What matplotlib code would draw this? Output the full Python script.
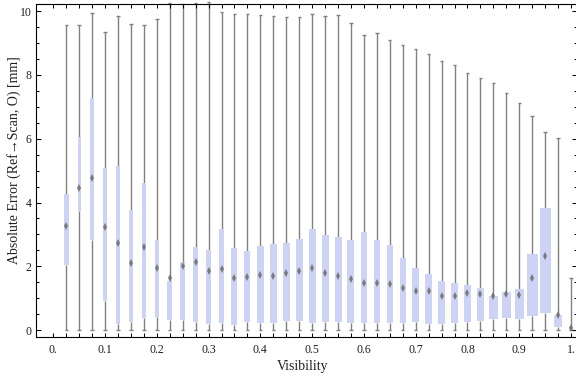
import numpy as np
import matplotlib
matplotlib.use("Agg")
import matplotlib.pyplot as plt
from matplotlib.ticker import FixedLocator, MultipleLocator

plt.rcParams['font.family'] = ['Liberation Serif', 'DejaVu Serif']

# box-whisker summary per visibility bin
visibility = [0.025, 0.05, 0.075, 0.1, 0.125, 0.15, 0.175, 0.2, 0.225, 0.25,
              0.275, 0.3, 0.325, 0.35, 0.375, 0.4, 0.425, 0.45, 0.475, 0.5,
              0.525, 0.55, 0.575, 0.6, 0.625, 0.65, 0.675, 0.7, 0.725, 0.75,
              0.775, 0.8, 0.825, 0.85, 0.875, 0.9, 0.925, 0.95, 0.975, 1.0]
err_max = [9.56, 9.56, 9.93, 9.33, 9.84, 9.58, 9.56, 9.74, 10.24, 10.22,
           10.24, 10.27, 9.96, 9.90, 9.90, 9.86, 9.83, 9.80, 9.80, 9.90,
           9.83, 9.86, 9.61, 9.24, 9.30, 9.08, 8.92, 8.80, 8.64, 8.42,
           8.30, 8.05, 7.89, 7.73, 7.42, 7.11, 6.70, 6.20, 6.01, 1.64]
err_q3 = [4.26, 6.04, 7.29, 5.07, 5.14, 3.78, 4.62, 2.84, 1.54, 2.14,
          2.61, 2.51, 3.17, 2.57, 2.48, 2.63, 2.70, 2.74, 2.85, 3.16,
          2.98, 2.92, 2.84, 3.07, 2.82, 2.66, 2.26, 1.94, 1.76, 1.54,
          1.47, 1.41, 1.32, 1.07, 1.19, 1.29, 2.38, 3.82, 0.47, 0.10]
err_med = [3.27, 4.45, 4.78, 3.24, 2.72, 2.09, 2.61, 1.95, 1.63, 2.01,
           2.13, 1.86, 1.93, 1.64, 1.67, 1.72, 1.70, 1.79, 1.86, 1.95,
           1.78, 1.69, 1.59, 1.48, 1.48, 1.45, 1.33, 1.24, 1.22, 1.06,
           1.08, 1.18, 1.13, 1.07, 1.12, 1.10, 1.64, 2.33, 0.47, 0.07]
err_q1 = [2.04, 3.73, 2.84, 0.91, 0.19, 0.26, 0.37, 0.40, 0.33, 0.33,
          0.26, 0.19, 0.23, 0.16, 0.26, 0.23, 0.23, 0.29, 0.29, 0.23,
          0.26, 0.26, 0.23, 0.21, 0.21, 0.23, 0.23, 0.26, 0.20, 0.20,
          0.23, 0.26, 0.29, 0.36, 0.39, 0.36, 0.45, 0.54, 0.11, 0.03]
err_min = [0.0, 0.02, 0.0, 0.0, 0.0, 0.0, 0.0, 0.0, 0.0, 0.0,
           0.0, 0.0, 0.0, 0.0, 0.0, 0.0, 0.0, 0.0, 0.0, 0.0,
           0.0, 0.0, 0.0, 0.0, 0.0, 0.0, 0.0, 0.0, 0.0, 0.0,
           0.0, 0.0, 0.0, 0.0, 0.0, 0.0, 0.0, 0.0, 0.0, 0.0]
# box widths in pixels (boxes get wider with more samples)
box_px = [4.7, 3.3, 3.3, 3.3, 3.3, 4.3, 4.7, 4.3, 4.7, 5.0,
          5.3, 5.0, 5.7, 6.0, 6.0, 6.5, 6.5, 7.0, 7.0, 7.0,
          7.0, 7.0, 7.0, 6.7, 6.7, 6.0, 6.3, 6.7, 6.7, 7.0,
          7.3, 7.0, 7.3, 9.0, 9.0, 9.0, 11.0, 11.0, 8.0, 4.0]

x_ticks = [0.0, 0.1, 0.2, 0.3, 0.4, 0.5, 0.6, 0.7, 0.8, 0.9, 1.0]
x_labels = ["0.", "0.1", "0.2", "0.3", "0.4", "0.5", "0.6", "0.7", "0.8", "0.9", "1."]

W, H = 576, 377
fig = plt.figure(figsize=(W / 100, H / 100), dpi=100)
left, right, top, bottom = 36, 577, 4.3, 336.7
ax = fig.add_axes([left / W, 1 - bottom / H, (right - left) / W, (bottom - top) / H])

xlo, xhi = -0.0334, 1.0116
ax.set_xlim(xlo, xhi)
ax.set_ylim(-0.204, 10.21)
px = (xhi - xlo) / (right - left)  # data units per pixel along x

x = np.array(visibility)
q1 = np.array(err_q1)
q3 = np.array(err_q3)
widths = np.array(box_px) * px

wcol = '#808080'
ax.vlines(x, err_min, q1, color=wcol, lw=1.0, zorder=1, clip_on=False)
ax.vlines(x, q3, err_max, color=wcol, lw=1.0, zorder=1, clip_on=False)
cap = 1.7 * px
ax.hlines(err_min, x - cap, x + cap, color=wcol, lw=1.0, zorder=1, clip_on=False)
ax.hlines(err_max, x - cap, x + cap, color=wcol, lw=1.0, zorder=1, clip_on=False)

ax.bar(x, q3 - q1, bottom=q1, width=widths, color='#cdd3f5', edgecolor='none', zorder=2)
ax.plot(x, err_med, linestyle='none', marker='d', markersize=3.6, color='#707070',
        markeredgewidth=0, alpha=0.9, zorder=3)

tc = '#1f1f1f'
ax.xaxis.set_major_locator(FixedLocator(x_ticks))
ax.set_xticklabels(x_labels)
ax.xaxis.set_minor_locator(FixedLocator(visibility))
ax.yaxis.set_major_locator(MultipleLocator(2))
ax.yaxis.set_minor_locator(MultipleLocator(0.5))
ax.tick_params(axis='both', which='both', direction='in', top=True, right=True,
               color='black', width=0.75, labelsize=8.5, labelcolor=tc)
ax.tick_params(axis='x', which='both', length=3.0, pad=5)
ax.tick_params(axis='y', which='major', length=3.3, pad=3)
ax.tick_params(axis='y', which='minor', length=1.9)

for s in ax.spines.values():
    s.set_linewidth(0.8)
    s.set_color('black')

ax.set_xlabel("Visibility", fontsize=10, color=tc)
ax.set_ylabel("Absolute Error (Ref\u2192Scan, O) [mm]", fontsize=10, color=tc)
ax.xaxis.set_label_coords(0.493, -0.07)
ax.yaxis.set_label_coords(-0.028, 0.53)

fig.savefig("out.png", dpi=100)
